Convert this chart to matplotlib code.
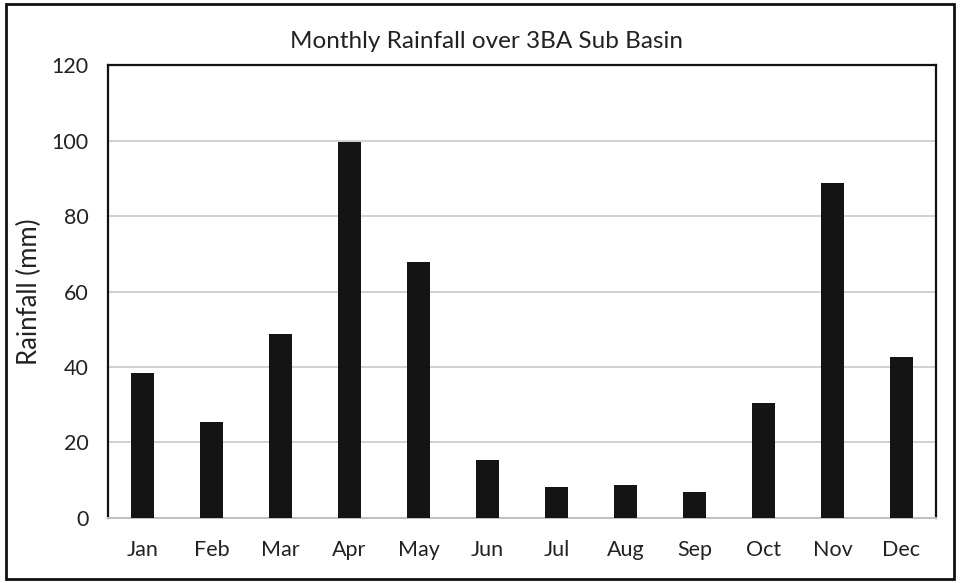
import numpy as np
import matplotlib.pyplot as plt
from matplotlib.patches import Rectangle

plt.rcParams['font.family'] = ['Lato', 'DejaVu Sans']

# monthly rainfall
months = ['Jan', 'Feb', 'Mar', 'Apr', 'May', 'Jun',
          'Jul', 'Aug', 'Sep', 'Oct', 'Nov', 'Dec']
rainfall = [38.5, 25.5, 48.7, 99.7, 67.9, 15.4,
            8.2, 8.8, 6.8, 30.5, 88.7, 42.7]
yticks = [0, 20, 40, 60, 80, 100, 120]

fig = plt.figure(figsize=(9.6, 5.83), dpi=100)
ax = fig.add_axes([0.1125, 0.1115, 0.8625, 0.777])

x = np.arange(len(months))
ax.bar(x, rainfall, width=0.32, color='#141414', zorder=3)

ax.set_xlim(-0.5, len(months) - 0.5)
ax.set_ylim(0, 120)
ax.set_yticks(yticks)
ax.set_xticks(x)
ax.set_xticklabels(months)
ax.tick_params(axis='both', length=0, labelsize=15.5, colors='#222222')
ax.tick_params(axis='x', pad=16)
ax.tick_params(axis='y', pad=14)

ax.grid(axis='y', color='#c8c8c8', linewidth=1.2, zorder=0)
for s in ['left', 'top', 'right']:
    ax.spines[s].set_color('#111111')
    ax.spines[s].set_linewidth(1.6)
ax.spines['bottom'].set_color('#c0c0c0')
ax.spines['bottom'].set_linewidth(1.4)

ax.set_ylabel('Rainfall (mm)', fontsize=18.5, color='#222222', labelpad=7)
fig.text(0.507, 0.928, 'Monthly Rainfall over 3BA Sub Basin',
         ha='center', va='center', fontsize=17.5, color='#222222')

# outer chart border
fig.patches.append(Rectangle((0.006, 0.007), 0.988, 0.986, transform=fig.transFigure,
                             fill=False, edgecolor='#111111', linewidth=2))

fig.savefig('out.png', dpi=100)
